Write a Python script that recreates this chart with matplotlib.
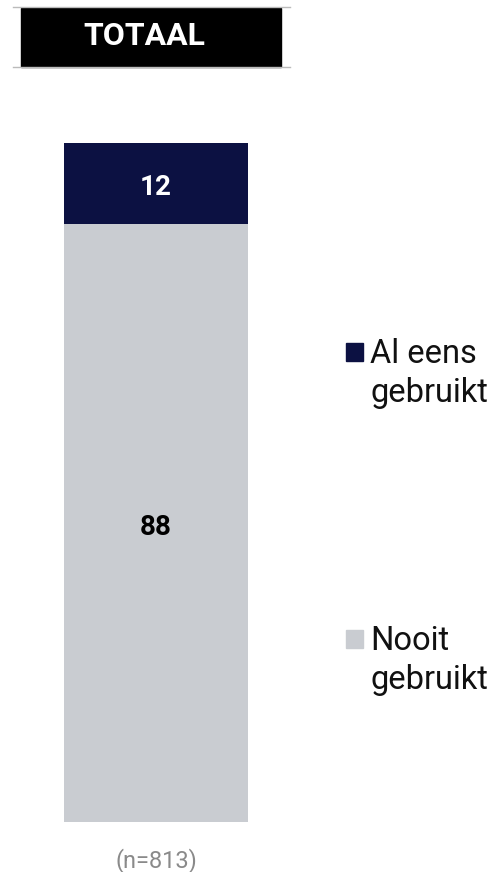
import matplotlib.pyplot as plt
from matplotlib.patches import Rectangle
from matplotlib.lines import Line2D

plt.rcParams['font.family'] = ['Roboto', 'DejaVu Sans']

labels = ["Nooit\ngebruikt", "Al eens\ngebruikt"]
values = [88, 12]
colors = ["#c9ccd1", "#0c1142"]
label_colors = ["#000000", "#ffffff"]
title = "TOTAAL"
base_text = "(n=813)"

W, H = 495, 872
fig = plt.figure(figsize=(W / 100, H / 100), dpi=100)


def fx(x):
    return x / W


def fy(y):
    return 1 - y / H


# bar axes
ax = fig.add_axes([fx(64), fy(822), fx(248) - fx(64), fy(143) - fy(822)])
bottom = 0
for v, c, lc in zip(values, colors, label_colors):
    ax.bar(0, v, bottom=bottom, width=1, color=c)
    ax.text(0, bottom + v / 2 - 0.6, str(v), ha="center", va="center",
            fontsize=20, fontweight="bold", color=lc)
    bottom += v
ax.set_xlim(-0.5, 0.5)
ax.set_ylim(0, sum(values))
ax.axis("off")

# title box
fig.patches.append(Rectangle((fx(21), fy(67)), fx(281) - fx(21), fy(8) - fy(67),
                             transform=fig.transFigure, color="black"))
for yy in (7, 67):
    fig.lines.append(Line2D([fx(13), fx(290)], [fy(yy), fy(yy)],
                            transform=fig.transFigure, color="#bbbbbb", lw=1))
fig.text(fx(144), fy(36), title, ha="center", va="center", color="white",
         fontsize=23, fontweight="bold")

# legend
leg_y = [630, 343]
for lab, c, y in zip(labels, colors, leg_y):
    fig.patches.append(Rectangle((fx(346), fy(y + 18)), fx(363) - fx(346),
                                 fy(y) - fy(y + 18),
                                 transform=fig.transFigure, color=c))
    for i, line in enumerate(lab.split("\n")):
        fig.text(fx(370), fy(y + 20 + 39 * i), line, ha="left", va="baseline",
                 fontsize=23.5, color="#111111")

fig.text(fx(156), fy(861), base_text, ha="center", va="center",
         fontsize=17, color="#8a8a8a")

fig.savefig("out.png", dpi=100)
